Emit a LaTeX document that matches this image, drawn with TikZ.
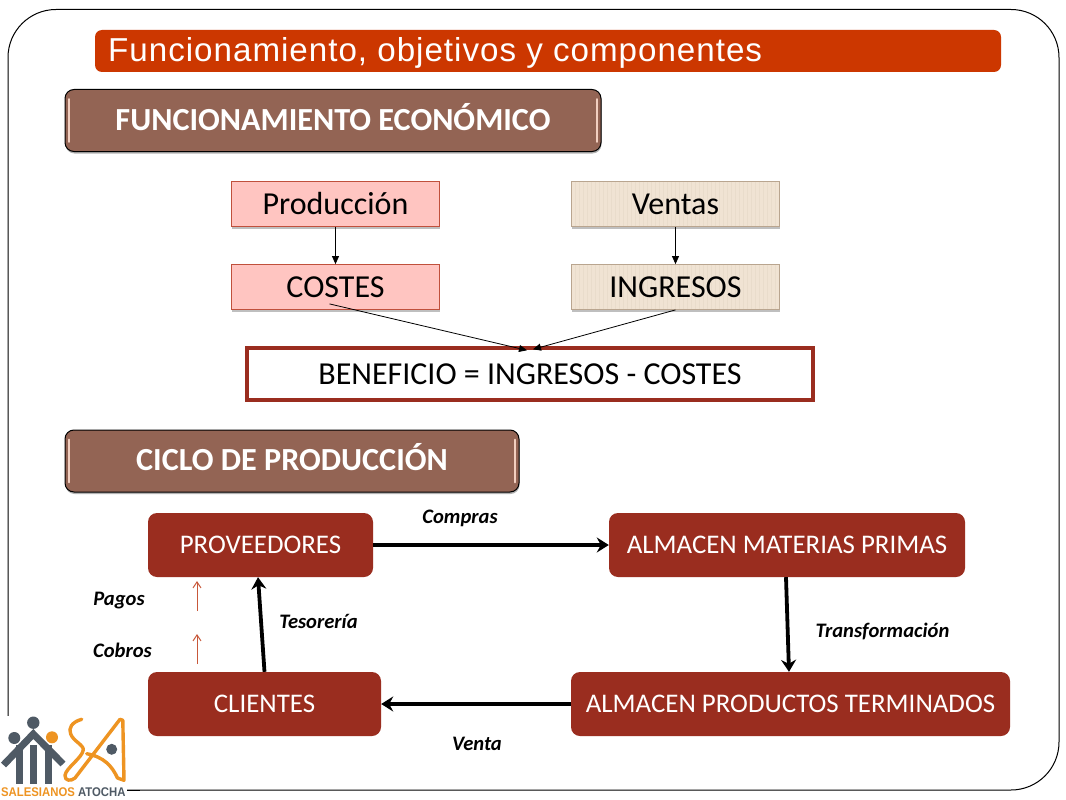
\documentclass[tikz,border=0pt]{standalone}
\usepackage{fontspec}
\setmainfont{Carlito}
\newfontfamily\titlefont{Liberation Sans}
\newfontfamily\titlespaced[LetterSpace=3]{Liberation Sans}
\usetikzlibrary{arrows.meta,shadows,calc}
\definecolor{barred}{HTML}{CC3700}
\definecolor{headfill}{HTML}{936454}
\definecolor{headlight}{HTML}{F2CFC0}
\definecolor{boxred}{HTML}{9A2D1F}
\definecolor{pinkfill}{HTML}{FFC5C1}
\definecolor{pinkline}{HTML}{C0503C}
\definecolor{beigefill}{HTML}{F0E3D3}
\definecolor{beigeline}{HTML}{B9A58F}
\definecolor{stripe}{HTML}{E9DCCB}
\definecolor{logogrey}{HTML}{4F5A65}
\definecolor{logoorange}{HTML}{EE9422}
\definecolor{thinarrow}{HTML}{C8583A}
\tikzset{
  x=1pt,y=-1pt,
  headbox/.style={draw=black,line width=1pt,fill=headfill,rounded corners=9pt,text=white,
    font=\fontsize{32.2}{36}\selectfont\bfseries,minimum height=62pt,inner sep=0pt,text height=19pt,text depth=0pt,
    drop shadow={shadow xshift=0.5pt,shadow yshift=-2pt,fill=black,opacity=.3}},
  headglow/.style={draw=headlight,line width=1.8pt,line cap=round},
  pinkbox/.style={draw=pinkline,line width=.8pt,fill=pinkfill,minimum width=208pt,minimum height=45pt,
    inner sep=0pt,font=\fontsize{32}{36}\selectfont,
    drop shadow={shadow xshift=0.5pt,shadow yshift=-2.5pt,fill=black,opacity=.25}},
  beigebox/.style={pinkbox,draw=beigeline,fill=beigefill,
    path picture={\foreach \k in {0,4,...,208}
      {\draw[stripe,line width=.7pt] ($(path picture bounding box.north west)+(\k,0)$) -- ($(path picture bounding box.south west)+(\k,0)$);}}},
  redbox/.style={fill=boxred,rounded corners=9pt,text=white,inner sep=0pt,minimum height=64pt,
    font=\fontsize{26.9}{31}\selectfont},
  thinline/.style={-{Triangle[length=8pt,width=7pt]},line width=.8pt,black},
  thickline/.style={-{Stealth[length=12pt,width=15pt,inset=4pt]},line width=3.8pt,black},
  orangeline/.style={-{Straight Barb[length=6pt,width=8pt]},line width=1pt,thinarrow},
  edgelabel/.style={inner sep=0pt,font=\fontsize{20.6}{24}\selectfont\bfseries\itshape},
}
\begin{document}
\begin{tikzpicture}
\useasboundingbox (0,0) rectangle (1066,800);
\fill[white] (0,0) rectangle (1066,800);
\draw[black,line width=1pt,rounded corners=48pt] (8,9.5) rectangle (1059,790);

\fill[barred,rounded corners=7pt] (95,30) rectangle (1001,72);
\node[anchor=base west,inner sep=0pt,text=white] (title) at (108,62)
  {\titlespaced\fontsize{33.15}{36}\selectfont Funcionamiento, objetivos y componentes};

\node[headbox,minimum width=536pt] (h1) at (333,120.5) {FUNCIONAMIENTO ECONÓMICO};
\draw[headglow] ([xshift=4.5pt,yshift=-10pt]h1.north west) -- ([xshift=4.5pt,yshift=10pt]h1.south west);
\draw[headglow] ([xshift=-4.5pt,yshift=-10pt]h1.north east) -- ([xshift=-4.5pt,yshift=10pt]h1.south east);

\node[pinkbox] (prod) at (335.5,204) {Producción};
\node[beigebox] (ventas) at (675.5,204) {Ventas};
\node[pinkbox] (costes) at (335.5,287) {COSTES};
\node[beigebox] (ingresos) at (675.5,287) {INGRESOS};
\node[draw=boxred,line width=3.4pt,fill=white,minimum width=566pt,minimum height=52pt,inner sep=0pt,
  font=\fontsize{32}{36}\selectfont] (benef) at (530,374) {BENEFICIO = INGRESOS - COSTES};

\draw[thinline] (prod.south) -- (costes.north);
\draw[thinline] (ventas.south) -- (ingresos.north);
\draw[thinline] ([xshift=-6pt,yshift=6pt]costes.south) -- ([xshift=-3pt,yshift=-4pt]benef.north);
\draw[thinline] (ingresos.south) -- ([xshift=3pt,yshift=-3pt]benef.north);

\node[headbox,minimum width=454pt] (h2) at (292,461) {CICLO DE PRODUCCIÓN};
\draw[headglow] ([xshift=4.5pt,yshift=-10pt]h2.north west) -- ([xshift=4.5pt,yshift=10pt]h2.south west);
\draw[headglow] ([xshift=-4.5pt,yshift=-10pt]h2.north east) -- ([xshift=-4.5pt,yshift=10pt]h2.south east);

\node[redbox,minimum width=225pt] (prov) at (260.5,545) {PROVEEDORES};
\node[redbox,minimum width=356pt] (amp) at (787,545) {ALMACEN MATERIAS PRIMAS};
\node[redbox,minimum width=233pt] (cli) at (264.5,704) {CLIENTES};
\node[redbox,minimum width=439pt] (apt) at (790.5,704) {ALMACEN PRODUCTOS TERMINADOS};

\draw[thickline] (prov.east) -- (amp.west);
\draw[thickline] ([xshift=-1pt]amp.south) -- ([xshift=-1.5pt]apt.north);
\draw[thickline] (apt.west) -- (cli.east);
\draw[thickline] (cli.north) -- ([xshift=-2.5pt]prov.south);

\coordinate (p1) at (197,611);
\coordinate (p2) at (197,581);
\coordinate (c1) at (197,664);
\coordinate (c2) at (197,634);
\draw[orangeline] (p1) -- (p2);
\draw[orangeline] (c1) -- (c2);

\node[edgelabel] (lcompras) at (460,518) {Compras};
\node[edgelabel] (ltransf) at (882.5,631) {Transformación};
\node[edgelabel] (lventa) at (477,744) {Venta};
\node[edgelabel] (ltes) at (318.5,621) {Tesorería};
\node[edgelabel] (lpagos) at (119,600.5) {Pagos};
\node[edgelabel] (lcobros) at (122.5,650.5) {Cobros};

% logo
\fill[white] (0,716) rectangle (127,800);
\draw[black,line width=1pt] (127,790) -- (140,790);
\fill[logogrey] (33.3,722.7) circle[radius=6.2];
\fill[logogrey] (14.3,738) circle[radius=6];
\fill[logoorange] (52,737.3) circle[radius=6];
\draw[logogrey,line width=7pt] (3.5,765) -- (33.3,734) -- (63,764);
\foreach \k in {19.5,33.3,48.5}
  \fill[logogrey] (\k-3.5,745) rectangle (\k+3.5,783.5);
\draw[logoorange,line width=3.4pt,line join=round,line cap=round]
  (81.7,719.3) .. controls (72,722) and (68,728) .. (70.7,734)
  .. controls (73,741) and (84,745) .. (83.3,750)
  .. controls (82,758) and (66,768) .. (65,775.3)
  .. controls (64.5,781) and (71,781.5) .. (75,778)
  -- (120,719.3) -- (122.8,720.3) -- (124,780.3)
  -- (117.5,778) .. controls (112,766) and (104,757) .. (86.7,753.7);
\fill[logogrey] (111.7,749.3) circle[radius=5.5];
\node[anchor=base west,inner sep=0pt,xscale=.9,font=\fontsize{12.6}{14}\selectfont\titlefont\bfseries] (logotext) at (1,796)
  {\textcolor{logoorange}{SALESIANOS} \textcolor{logogrey}{ATOCHA}};
\end{tikzpicture}
\end{document}
